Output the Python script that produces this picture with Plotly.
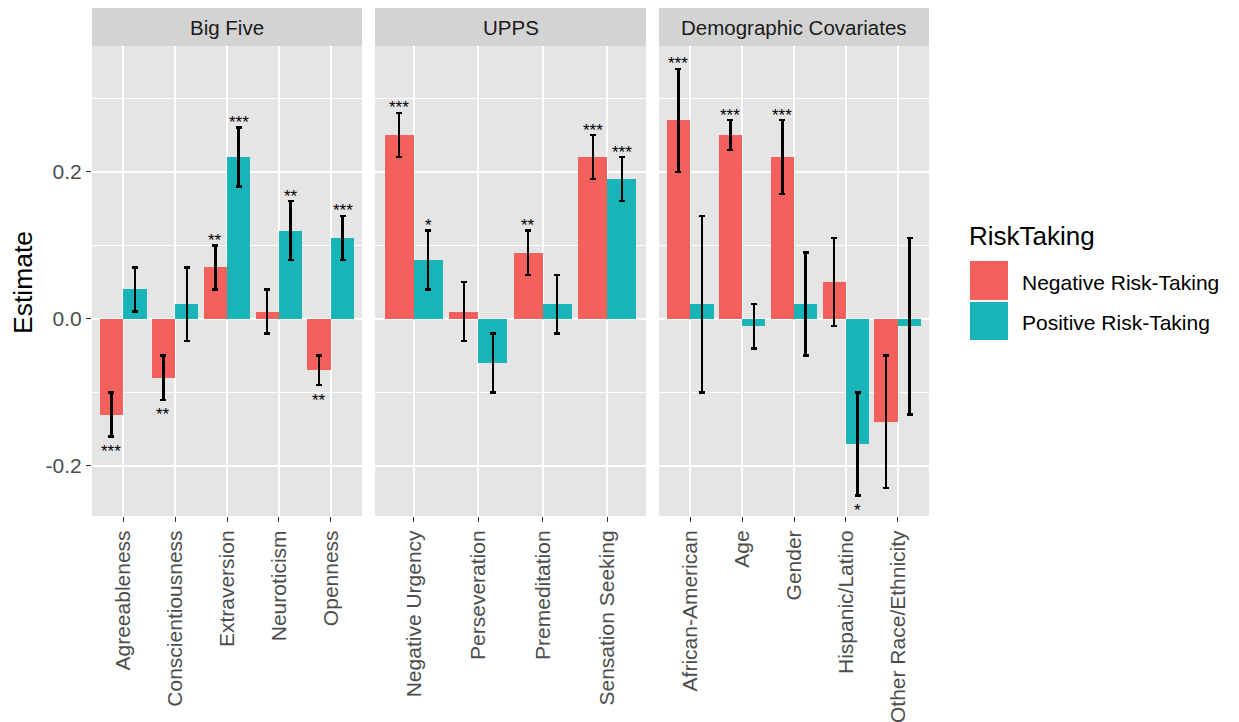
import plotly.graph_objects as go

# ---------------- data ----------------
facets = ["Big Five", "UPPS", "Demographic Covariates"]

big5 = ["Agreeableness", "Conscientiousness", "Extraversion", "Neuroticism", "Openness"]
big5_neg = [-0.13, -0.08, 0.07, 0.01, -0.07]
big5_neg_lo = [-0.16, -0.11, 0.04, -0.02, -0.09]
big5_neg_hi = [-0.10, -0.05, 0.10, 0.04, -0.05]
big5_pos = [0.04, 0.02, 0.22, 0.12, 0.11]
big5_pos_lo = [0.01, -0.03, 0.18, 0.08, 0.08]
big5_pos_hi = [0.07, 0.07, 0.26, 0.16, 0.14]
big5_neg_sig = ["***", "**", "**", "", "**"]
big5_pos_sig = ["", "", "***", "**", "***"]

upps = ["Negative Urgency", "Perseveration", "Premeditation", "Sensation Seeking"]
upps_neg = [0.25, 0.01, 0.09, 0.22]
upps_neg_lo = [0.22, -0.03, 0.06, 0.19]
upps_neg_hi = [0.28, 0.05, 0.12, 0.25]
upps_pos = [0.08, -0.06, 0.02, 0.19]
upps_pos_lo = [0.04, -0.10, -0.02, 0.16]
upps_pos_hi = [0.12, -0.02, 0.06, 0.22]
upps_neg_sig = ["***", "", "**", "***"]
upps_pos_sig = ["*", "", "", "***"]

demo = ["African-American", "Age", "Gender", "Hispanic/Latino", "Other Race/Ethnicity"]
demo_neg = [0.27, 0.25, 0.22, 0.05, -0.14]
demo_neg_lo = [0.20, 0.23, 0.17, -0.01, -0.23]
demo_neg_hi = [0.34, 0.27, 0.27, 0.11, -0.05]
demo_pos = [0.02, -0.01, 0.02, -0.17, -0.01]
demo_pos_lo = [-0.10, -0.04, -0.05, -0.24, -0.13]
demo_pos_hi = [0.14, 0.02, 0.09, -0.10, 0.11]
demo_neg_sig = ["***", "***", "***", "", ""]
demo_pos_sig = ["", "", "", "*", ""]

series_names = ["Negative Risk-Taking", "Positive Risk-Taking"]
y_ticks = [-0.2, 0.0, 0.2]
y_tick_labels = ["-0.2", "0.0", "0.2"]

# ---------------- style ----------------
RED = "#F4605C"
TEAL = "#19B4B7"
colors = [RED, TEAL]
FONT = "Liberation Sans, Arial, sans-serif"
OFF = 8  # page body margin
W, H = 1239 - OFF, 722 - OFF

def X(p):  # reference pixel -> figure pixel
    return p - OFF

ML, MR, MT, MB = X(92), W - X(929), X(46), H - X(516)
PW, PH = W - ML - MR, H - MT - MB
YR = [-0.268, 0.371]

panel_px = [(92, 362), (375, 646), (659, 929)]

def px_x(p):
    return (X(p) - ML) / PW

def px_y(p):
    return (H - MB - X(p)) / PH

panels = [
    (big5, [(big5_neg, big5_neg_lo, big5_neg_hi, big5_neg_sig),
            (big5_pos, big5_pos_lo, big5_pos_hi, big5_pos_sig)]),
    (upps, [(upps_neg, upps_neg_lo, upps_neg_hi, upps_neg_sig),
            (upps_pos, upps_pos_lo, upps_pos_hi, upps_pos_sig)]),
    (demo, [(demo_neg, demo_neg_lo, demo_neg_hi, demo_neg_sig),
            (demo_pos, demo_pos_lo, demo_pos_hi, demo_pos_sig)]),
]

fig = go.Figure()
annotations = []
shapes = []
dodge = 0.45

for pi, (cats, series) in enumerate(panels):
    ax = "" if pi == 0 else str(pi + 1)
    xs = list(range(1, len(cats) + 1))
    for si, (est, lo, hi, sig) in enumerate(series):
        off = (si - 0.5) * dodge
        xpos = [x + off for x in xs]
        fig.add_trace(go.Bar(
            x=xpos, y=est, width=dodge,
            marker=dict(color=colors[si], line=dict(width=0)),
            error_y=dict(type="data", symmetric=False,
                         array=[h - e for h, e in zip(hi, est)],
                         arrayminus=[e - l for e, l in zip(est, lo)],
                         color="black", thickness=2.4, width=3),
            name=series_names[si], showlegend=False,
            xaxis="x" + ax, yaxis="y" + ax,
        ))
        for x, e, l, h, s in zip(xpos, est, lo, hi, sig):
            if not s:
                continue
            if e >= 0:
                annotations.append(dict(x=x, y=h, xref="x" + ax, yref="y" + ax,
                                        text=s, showarrow=False, yanchor="middle",
                                        yshift=5, font=dict(size=17, color="black", family=FONT)))
            else:
                annotations.append(dict(x=x, y=l, xref="x" + ax, yref="y" + ax,
                                        text=s, showarrow=False, yanchor="middle",
                                        yshift=-15, font=dict(size=17, color="black", family=FONT)))
    x0, x1 = panel_px[pi]
    dom = [px_x(x0), px_x(x1)]
    fig.layout["xaxis" + ax] = dict(
        domain=dom, range=[0.4, len(cats) + 0.6], anchor="y" + ax,
        tickmode="array", tickvals=xs, ticktext=cats, tickangle=-90,
        showgrid=True, gridcolor="white", gridwidth=1.6, zeroline=False,
        ticks="outside", ticklen=5, tickwidth=1.2, tickcolor="#333333",
        tickfont=dict(size=21, color="#4D4D4D", family=FONT),
        automargin=False, showline=False,
    )
    fig.layout["yaxis" + ax] = dict(
        domain=[0, 1], range=YR, anchor="x" + ax,
        tickmode="array", tickvals=y_ticks, ticktext=y_tick_labels,
        showticklabels=(pi == 0), ticks="outside" if pi == 0 else "",
        ticklen=5, tickwidth=1.2, tickcolor="#333333",
        tickfont=dict(size=21, color="#4D4D4D", family=FONT),
        showgrid=True, gridcolor="white", gridwidth=1.6, zeroline=False,
        minor=dict(tickmode="array", tickvals=[-0.1, 0.1, 0.3], showgrid=True,
                   gridcolor="white", gridwidth=0.7, ticks=""),
        automargin=False, showline=False,
    )
    # facet strip
    shapes.append(dict(type="rect", xref="paper", yref="paper",
                       x0=dom[0], x1=dom[1], y0=1, y1=px_y(7),
                       fillcolor="#D3D3D3", line=dict(width=0), layer="below"))
    annotations.append(dict(x=(dom[0] + dom[1]) / 2, y=px_y(27), xref="paper", yref="paper",
                            text=facets[pi], showarrow=False, xanchor="center", yanchor="middle",
                            font=dict(size=20.5, color="#1A1A1A", family=FONT)))

# y axis title
annotations.append(dict(x=px_x(23), y=px_y(283), xref="paper", yref="paper",
                        text="Estimate", textangle=-90, showarrow=False,
                        xanchor="center", yanchor="middle",
                        font=dict(size=26.5, color="black", family=FONT)))

# legend (manual)
annotations.append(dict(x=px_x(967), y=px_y(236), xref="paper", yref="paper",
                        text="RiskTaking", showarrow=False, xanchor="left", yanchor="middle",
                        font=dict(size=26, color="black", family=FONT)))
key_boxes = [(261, 300), (302, 340)]
key_text_y = [282, 322]
for si in range(2):
    y0, y1 = key_boxes[si]
    shapes.append(dict(type="rect", xref="paper", yref="paper",
                       x0=px_x(970), x1=px_x(1008), y0=px_y(y1), y1=px_y(y0),
                       fillcolor=colors[si], line=dict(width=0)))
    annotations.append(dict(x=px_x(1020), y=px_y(key_text_y[si]), xref="paper", yref="paper",
                            text=series_names[si], showarrow=False, xanchor="left", yanchor="middle",
                            font=dict(size=21, color="black", family=FONT)))

fig.update_layout(
    width=W, height=H,
    margin=dict(l=ML, r=MR, t=MT, b=MB, pad=0),
    paper_bgcolor="white", plot_bgcolor="#E5E5E5",
    barmode="overlay", bargap=0,
    showlegend=False,
    annotations=annotations, shapes=shapes,
    font=dict(family=FONT),
    template="none",
)

fig.write_html("out.html")
